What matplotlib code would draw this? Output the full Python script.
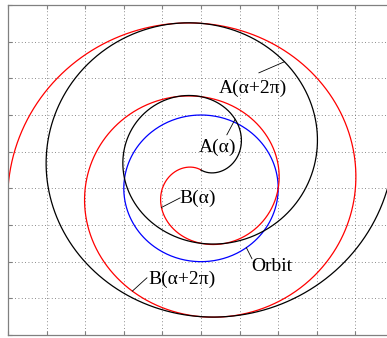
import numpy as np
import matplotlib.pyplot as plt

# Orbit circle and the two spiral paths (units of the grid)
orbit_radius = 2.0
alpha_start = 0.5          # start of the spirals, in multiples of pi
alpha_end = 5.0            # end of the spirals, in multiples of pi
mirror_point = (0.0, 0.5)  # A and B are point-symmetric about this

x_limits = [-5, 5]
y_limits = [-4, 5]

labels = ["A(α+2π)", "A(α)", "B(α)", "B(α+2π)", "Orbit"]
# where each leader line touches its curve (alpha in multiples of pi, orbit angle in degrees)
leader_alpha_A = [3.27, 1.25]
leader_alpha_B = [1.15, 3.32]
leader_orbit_deg = -54


def point_B(a):
    # Archimedean spiral, radius grows 2 units per turn
    return a / np.pi * np.cos(a), a / np.pi * np.sin(a)


def point_A(a):
    bx, by = point_B(a)
    return 2 * mirror_point[0] - bx, 2 * mirror_point[1] - by


alpha = np.linspace(alpha_start * np.pi, alpha_end * np.pi, 2000)
bx, by = point_B(alpha)
ax_, ay_ = point_A(alpha)

t = np.linspace(0, 2 * np.pi, 400)
ox = orbit_radius * np.cos(t)
oy = orbit_radius * np.sin(t)

plt.rcParams["font.family"] = ["Liberation Serif", "DejaVu Serif"]

fig = plt.figure(figsize=(3.87, 3.38), dpi=100)
ax = fig.add_axes([8 / 387, 3 / 338, 386 / 387, 330 / 338])

ax.plot(ox, oy, color="#0000ff", lw=0.9)
ax.plot(bx, by, color="#ff0000", lw=0.9)
ax.plot(ax_, ay_, color="black", lw=0.9)

ax.set_xlim(x_limits)
ax.set_ylim(y_limits)
ax.set_xticks(np.arange(x_limits[0], x_limits[1] + 1))
ax.set_yticks(np.arange(y_limits[0], y_limits[1] + 1))
ax.tick_params(direction="in", length=3, width=0.8, color="0.5",
               top=True, right=True, labelbottom=False, labelleft=False)
ax.grid(True, color="0.4", lw=0.6, linestyle=(0, (1, 3)))
for s in ax.spines.values():
    s.set_color("0.5")
    s.set_linewidth(0.9)

# labels with short leader lines
text_pos = [(1.35, 2.74), (0.44, 1.13), (-0.09, -0.27), (-0.50, -2.47), (1.84, -2.14)]
line_start = [(1.50, 3.15), (0.67, 1.46), (-0.54, -0.26), (-1.40, -2.44), (1.32, -1.92)]

targets = [point_A(leader_alpha_A[0] * np.pi), point_A(leader_alpha_A[1] * np.pi),
           point_B(leader_alpha_B[0] * np.pi), point_B(leader_alpha_B[1] * np.pi),
           (orbit_radius * np.cos(np.radians(leader_orbit_deg)),
            orbit_radius * np.sin(np.radians(leader_orbit_deg)))]

for lab, pos, start, end in zip(labels, text_pos, line_start, targets):
    ax.plot([start[0], end[0]], [start[1], end[1]], color="black", lw=0.6)
    ax.text(pos[0], pos[1], lab, fontsize=14, ha="center", va="center")

plt.savefig("out.png", dpi=100)
